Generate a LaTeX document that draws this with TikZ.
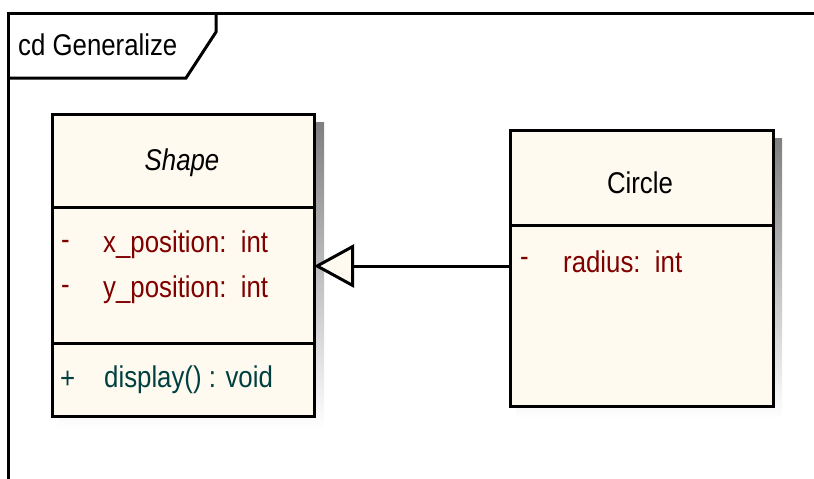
\documentclass[tikz,border=0pt]{standalone}
\usepackage{fontspec}
\setmainfont{Liberation Sans}
\newfontfamily\umlfont[FakeStretch=0.86]{Liberation Sans}
\usetikzlibrary{arrows.meta}
\definecolor{cream}{HTML}{FEFAEF}
\definecolor{shade}{HTML}{C0C0C0}
\definecolor{attrred}{HTML}{800000}
\definecolor{optealc}{HTML}{004040}
\tikzset{
  compartment/.style={draw=black, fill=cream, line width=3pt, anchor=north west,
    inner sep=0pt, outer sep=0pt},
  umltext/.style={font=\umlfont\fontsize{30pt}{33pt}\selectfont, inner sep=0pt},
  attr/.style={umltext, text=attrred, anchor=west},
  oper/.style={umltext, text=optealc, anchor=west},
  framestroke/.style={line width=3pt, line cap=rect},
}
\begin{document}
\begin{tikzpicture}[x=1pt, y=-1pt]
  \useasboundingbox (0,0) rectangle (814,479);

  % diagram frame and its name tab
  \draw[framestroke] (8,479) -- (8,13) -- (814,13);
  \draw[line width=3pt, line join=miter] (8,78) -- (186,78) -- (216,32) -- (216,13);
  \node[umltext, anchor=west] (frameName) at (18,45) {cd Generalize};

  % drop shadows
  \fill[shade] (58,122) rectangle (324,429);
  \fill[shade] (516,138) rectangle (782,419);

  % class Shape
  \node[compartment, minimum width=262pt, minimum height=93pt] (shapeHead) at (52,114) {};
  \node[compartment, minimum width=262pt, minimum height=136pt] (shapeAttrs) at (shapeHead.south west) {};
  \node[compartment, minimum width=262pt, minimum height=73pt] (shapeOps) at (shapeAttrs.south west) {};
  \node[umltext, font=\umlfont\itshape\fontsize{30pt}{33pt}\selectfont] (shapeName) at (182,163) {Shape};
  \node[attr] (shapeVisX) at (61,245) {-};
  \node[attr] (shapeAttrX) at (103,245) {x\_position:\ \ int};
  \node[attr] (shapeVisY) at (61,290) {-};
  \node[attr] (shapeAttrY) at (103,290) {y\_position:\ \ int};
  \node[oper] (shapeVisOp) at (60,380) {+};
  \node[oper] (shapeOp) at (104,380) {display() : void};

  % class Circle
  \node[compartment, minimum width=263pt, minimum height=95pt] (circleHead) at (510,130) {};
  \node[compartment, minimum width=263pt, minimum height=181pt] (circleAttrs) at (circleHead.south west) {};
  \node[umltext] (circleName) at (640,183) {Circle};
  \node[attr] (circleVisR) at (520,262) {-};
  \node[attr] (circleAttrR) at (563,262) {radius:\ \ int};

  % generalization Circle -> Shape
  \coordinate (genRow) at (0,266);
  \draw[line width=3pt, -{Triangle[length=40pt, width=43pt, fill=cream, line width=3pt]}]
    (circleAttrs.west |- genRow) -- (shapeAttrs.east |- genRow);
\end{tikzpicture}
\end{document}
